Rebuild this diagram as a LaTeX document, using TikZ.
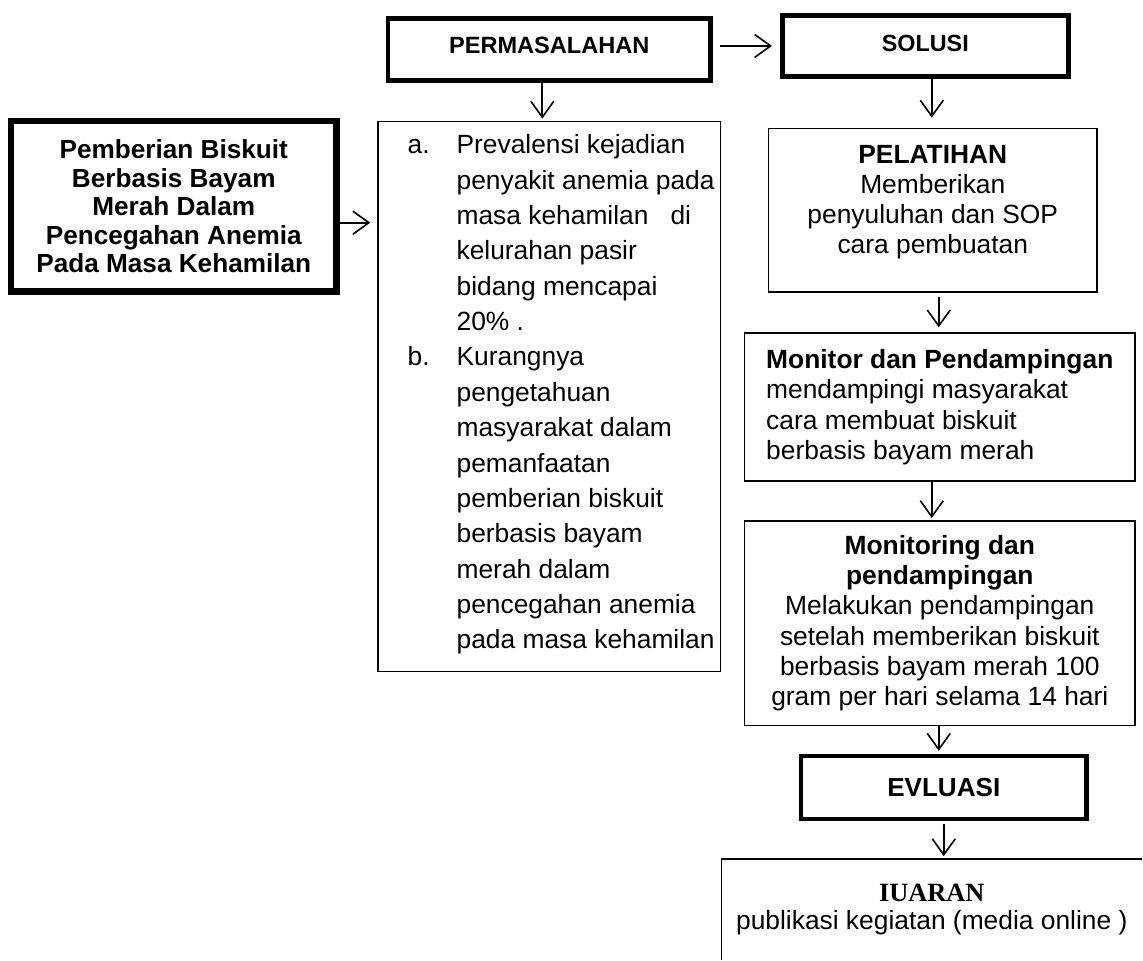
\documentclass[tikz,border=0pt]{standalone}
\usepackage{fontspec}
\setmainfont{Liberation Sans}
\newfontfamily\timesb{Liberation Serif}
\usetikzlibrary{arrows.meta}
\begin{document}
\begin{tikzpicture}[x=1pt,y=-1pt,
  box/.style={draw, line width=1.5pt, inner sep=0pt, align=center,
    font=\fontsize{26.4}{30.5}\selectfont},
  thickbox/.style={box, line width=5pt},
  txt/.style={inner sep=0pt},
  arr/.style={line width=1.6pt, -{Straight Barb[length=16pt,width=23pt]}},
]
\fill[white] (0,0) rectangle (1143,960);

% boxes
\node[thickbox, line width=6.5pt, minimum width=326pt, minimum height=171pt,
  font=\fontsize{26.2}{28.5}\selectfont\bfseries] (L) at (174,206.5)
  {Pemberian Biskuit\\Berbasis Bayam\\Merah Dalam\\Pencegahan Anemia\\Pada Masa Kehamilan};
\node[thickbox, minimum width=323pt, minimum height=62pt, text depth=8pt,
  font=\fontsize{23.6}{28}\selectfont\bfseries] (P) at (550,49.5) {PERMASALAHAN};
\node[thickbox, minimum width=286pt, minimum height=61pt, text depth=6pt,
  font=\fontsize{23.4}{28}\selectfont\bfseries] (S) at (926.5,46) {SOLUSI};
\node[box, minimum width=343pt, minimum height=551pt] (mid) at (550,397) {};
\node[box, minimum width=329pt, minimum height=164pt] (PEL) at (934,210.5) {};
\node[box, align=left, minimum width=391pt, minimum height=148pt] (MON) at (941,407.5)
  {\textbf{Monitor dan Pendampingan}\\mendampingi masyarakat\\cara membuat biskuit\\berbasis bayam merah};
\node[box, minimum width=391pt, minimum height=205pt,
  font=\fontsize{26.4}{30.2}\selectfont] (MTG) at (941,624)
  {\textbf{Monitoring dan}\\\textbf{pendampingan}\\Melakukan pendampingan\\setelah memberikan biskuit\\berbasis bayam merah 100\\gram per hari selama 14 hari};
\node[thickbox, line width=4.5pt, minimum width=286pt, minimum height=63pt,
  font=\fontsize{26.1}{30}\selectfont\bfseries] (EV) at (945,788.5) {EVLUASI};
\node[box, draw=none, minimum width=420pt, minimum height=99pt,
  font=\fontsize{26.4}{28.5}\selectfont] (IU) at (933,910.5)
  {{\timesb\bfseries IUARAN}\\publikasi kegiatan (media online )};
\draw[line width=1.5pt] (IU.south west) |- (IU.north east);

% texts inside boxes
\node[txt, anchor=west, align=left, font=\fontsize{26.4}{35.4}\selectfont] (midt) at (408,395)
  {\makebox[49pt][l]{a.}Prevalensi kejadian\\
   \hspace*{49pt}penyakit anemia pada\\
   \hspace*{49pt}masa kehamilan\ \ \ di\\
   \hspace*{49pt}kelurahan pasir\\
   \hspace*{49pt}bidang mencapai\\
   \hspace*{49pt}20\% .\\
   \makebox[49pt][l]{b.}Kurangnya\\
   \hspace*{49pt}pengetahuan\\
   \hspace*{49pt}masyarakat dalam\\
   \hspace*{49pt}pemanfaatan\\
   \hspace*{49pt}pemberian biskuit\\
   \hspace*{49pt}berbasis bayam\\
   \hspace*{49pt}merah dalam\\
   \hspace*{49pt}pencegahan anemia\\
   \hspace*{49pt}pada masa kehamilan};
\node[txt, align=center, font=\fontsize{26.4}{30}\selectfont] (pelt) at (934,202.5)
  {\textbf{PELATIHAN}\\Memberikan\\penyuluhan dan SOP\\cara pembuatan};

% connectors
\draw[arr, shorten <=7pt, shorten >=8pt] (P.east |- S.west) -- (S.west);
\draw[arr, shorten >=2pt] ([xshift=-7pt]P.south) -- ([xshift=-7pt]P.south |- mid.north);
\draw[arr, shorten >=7pt] ([yshift=-16.5pt]L.east) -- ([yshift=-16.5pt]L.east -| mid.west);
\draw[arr, shorten >=10pt] ([xshift=6.5pt]S.south) -- ([xshift=6.5pt]S.south |- PEL.north);
\draw[arr, shorten <=4pt, shorten >=5pt] ([xshift=6pt]PEL.south) -- ([xshift=6pt]PEL.south |- MON.north);
\draw[arr, shorten >=2pt] ([xshift=-8pt]MON.south) -- ([xshift=-8pt]MON.south |- MTG.north);
\draw[arr, shorten >=3pt] ([xshift=-1pt]MTG.south) -- ([xshift=-1pt]MTG.south |- EV.north);
\draw[arr, shorten <=3pt, shorten >=3pt] (EV.south) -- (EV.south |- IU.north);
\end{tikzpicture}
\end{document}
